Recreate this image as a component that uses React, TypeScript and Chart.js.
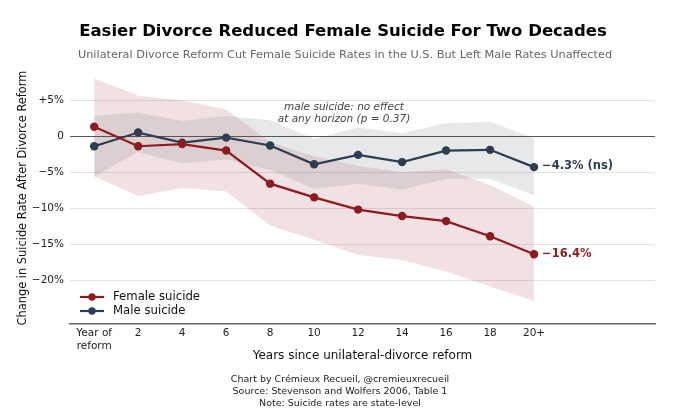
import { useEffect, useRef } from 'react';
import { Chart, registerables } from 'chart.js';

Chart.register(...registerables);

const horizons = [0, 2, 4, 6, 8, 10, 12, 14, 16, 18, 20];
const tickLabels = ['Year of\nreform', '2', '4', '6', '8', '10', '12', '14', '16', '18', '20+'];

const female = [1.3, -1.4, -1.1, -2.0, -6.6, -8.5, -10.2, -11.1, -11.8, -13.9, -16.4];
const femaleUpper = [8.0, 5.6, 5.0, 3.7, -0.8, -2.8, -4.1, -5.0, -4.6, -6.8, -9.8];
const femaleLower = [-5.6, -8.3, -7.2, -7.7, -12.4, -14.4, -16.5, -17.2, -18.8, -20.9, -22.9];

const male = [-1.4, 0.5, -0.9, -0.2, -1.3, -3.9, -2.6, -3.6, -2.0, -1.9, -4.3];
const maleUpper = [2.8, 3.3, 2.1, 2.8, 2.2, -0.4, 1.2, 0.4, 1.8, 2.0, -0.3];
const maleLower = [-5.6, -2.2, -3.8, -3.2, -4.7, -7.3, -6.6, -7.4, -5.9, -5.9, -8.2];

const yTicks = [-20, -15, -10, -5, 0, 5];

const FEMALE = '#8e1b1f';
const MALE = '#2c3e50';
const FONT = '"DejaVu Sans", sans-serif';

const pts = (arr: number[]) => arr.map((y, i) => ({ x: i, y }));

const textPlugin = {
  id: 'texts',
  afterDraw(chart: Chart) {
    const { ctx, chartArea, scales } = chart;
    const xs = scales.x;
    const ys = scales.y;
    ctx.save();
    ctx.textAlign = 'center';
    ctx.textBaseline = 'middle';

    ctx.fillStyle = '#000';
    ctx.font = `bold 16.5px ${FONT}`;
    ctx.fillText('Easier Divorce Reduced Female Suicide For Two Decades', 343, 32);

    ctx.fillStyle = '#666';
    ctx.font = `11.3px ${FONT}`;
    ctx.fillText('Unilateral Divorce Reform Cut Female Suicide Rates in the U.S. But Left Male Rates Unaffected', 345, 55);

    // annotation
    ctx.fillStyle = '#444';
    ctx.font = `italic 10.5px ${FONT}`;
    ctx.fillText('male suicide: no effect', 344, 107);
    ctx.fillText('at any horizon (p = 0.37)', 344, 119);

    // end labels
    ctx.textAlign = 'left';
    ctx.font = `bold 11.5px ${FONT}`;
    const last = horizons.length - 1;
    ctx.fillStyle = MALE;
    ctx.fillText('\u22124.3% (ns)', xs.getPixelForValue(last) + 8, ys.getPixelForValue(male[last]) - 1);
    ctx.fillStyle = FEMALE;
    ctx.fillText('\u221216.4%', xs.getPixelForValue(last) + 8, ys.getPixelForValue(female[last]));

    // legend
    const legend = [
      { label: 'Female suicide', color: FEMALE, y: 297 },
      { label: 'Male suicide', color: MALE, y: 311 },
    ];
    ctx.font = `11.7px ${FONT}`;
    legend.forEach((l) => {
      ctx.strokeStyle = l.color;
      ctx.fillStyle = l.color;
      ctx.lineWidth = 2.2;
      ctx.beginPath();
      ctx.moveTo(80, l.y);
      ctx.lineTo(104, l.y);
      ctx.stroke();
      ctx.beginPath();
      ctx.arc(92, l.y, 3.7, 0, Math.PI * 2);
      ctx.fill();
      ctx.fillStyle = '#111';
      ctx.fillText(l.label, 113, l.y);
    });

    // axis titles
    ctx.textAlign = 'center';
    ctx.fillStyle = '#111';
    ctx.font = `12px ${FONT}`;
    ctx.fillText('Years since unilateral-divorce reform', (chartArea.left + chartArea.right) / 2, 356);

    ctx.save();
    ctx.translate(23, 198);
    ctx.rotate(-Math.PI / 2);
    ctx.font = `11.4px ${FONT}`;
    ctx.fillText('Change in Suicide Rate After Divorce Reform', 0, 0);
    ctx.restore();

    // footer
    ctx.fillStyle = '#222';
    ctx.font = `9.5px ${FONT}`;
    ctx.fillText('Chart by Crémieux Recueil, @cremieuxrecueil', 340, 380);
    ctx.fillText('Source: Stevenson and Wolfers 2006, Table 1', 340, 392);
    ctx.fillText('Note: Suicide rates are state-level', 340, 404);
    ctx.restore();
  },
};

export default function App() {
  const canvasRef = useRef<HTMLCanvasElement>(null);
  const chartRef = useRef<Chart | null>(null);

  useEffect(() => {
    document.body.style.margin = '0';
    if (!canvasRef.current) return;
    const ctx = canvasRef.current.getContext('2d');
    if (!ctx) return;
    if (chartRef.current) chartRef.current.destroy();

    const band = (data: number[], color: string, fill: string | boolean, order: number) => ({
      label: '',
      data: pts(data),
      borderWidth: 0,
      pointRadius: 0,
      backgroundColor: color,
      fill,
      order,
      tension: 0,
    });

    chartRef.current = new Chart(ctx, {
      type: 'line',
      data: {
        datasets: [
          {
            label: 'Female suicide',
            data: pts(female),
            borderColor: FEMALE,
            backgroundColor: FEMALE,
            borderWidth: 2.2,
            pointRadius: 4.2,
            pointBackgroundColor: FEMALE,
            pointBorderWidth: 0,
            fill: false,
            order: 0,
          },
          {
            label: 'Male suicide',
            data: pts(male),
            borderColor: MALE,
            backgroundColor: MALE,
            borderWidth: 2.2,
            pointRadius: 4.2,
            pointBackgroundColor: MALE,
            pointBorderWidth: 0,
            fill: false,
            order: 1,
          },
          band(femaleUpper, 'rgba(160,40,60,0.14)', '+1', 3),
          band(femaleLower, 'rgba(0,0,0,0)', false, 3),
          band(maleUpper, 'rgba(95,100,115,0.15)', '+1', 2),
          band(maleLower, 'rgba(0,0,0,0)', false, 2),
        ],
      },
      options: {
        responsive: false,
        animation: false,
        layout: { padding: { top: 75, right: 25, left: 0, bottom: 0 } },
        plugins: {
          legend: { display: false },
          tooltip: { enabled: false },
        },
        scales: {
          x: {
            type: 'linear',
            min: -0.55,
            max: 12.75,
            afterFit: (s: any) => { s.height = 94; },
            afterBuildTicks: (s: any) => { s.ticks = horizons.map((_, i) => ({ value: i })); },
            grid: { display: false, drawTicks: false },
            border: { display: true, color: '#666', width: 1.5 },
            ticks: {
              color: '#222',
              font: { family: FONT, size: 10.5 },
              padding: 3,
              maxRotation: 0,
              autoSkip: false,
              callback: (v: any) => tickLabels[v]?.split('\n'),
            },
          },
          y: {
            min: -26.1,
            max: 8.5,
            afterFit: (s: any) => { s.width = 70; },
            afterBuildTicks: (s: any) => { s.ticks = yTicks.map((v) => ({ value: v })); },
            border: { display: false },
            grid: {
              color: (c: any) => (c.tick && c.tick.value === 0 ? '#555' : '#e2e2e2'),
              lineWidth: (c: any) => (c.tick && c.tick.value === 0 ? 1.1 : 1),
              drawTicks: false,
            },
            ticks: {
              color: '#222',
              font: { family: FONT, size: 10.5 },
              padding: 6,
              callback: (v: any) => (v > 0 ? `+${v}%` : v === 0 ? '0' : `\u2212${Math.abs(v)}%`),
            },
          },
        },
      },
      plugins: [textPlugin],
    });

    return () => {
      if (chartRef.current) {
        chartRef.current.destroy();
        chartRef.current = null;
      }
    };
  }, []);

  return <canvas ref={canvasRef} width={680} height={418} />;
}
